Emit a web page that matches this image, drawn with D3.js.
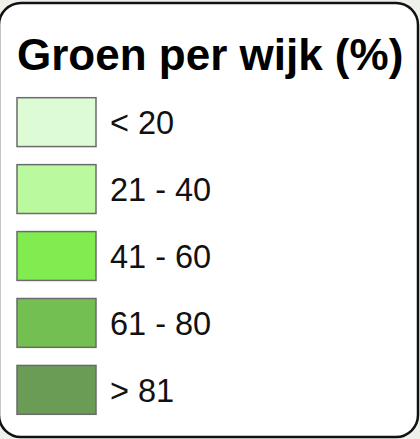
<!DOCTYPE html>
<html>
<head>
<meta charset="utf-8">
<script src="https://cdn.jsdelivr.net/npm/d3@7"></script>
<style>
  html, body { margin: 0; padding: 0; background: #eef0ea; }
  svg { display: block; }
</style>
</head>
<body>
<svg id="chart" width="420" height="439"></svg>
<script>
const title = "Groen per wijk (%)";
const classes = ["< 20", "21 - 40", "41 - 60", "61 - 80", "> 81"];
const colors = ["#ddfcd6", "#bbf99f", "#80ec4f", "#73bf52", "#6a9c56"];

const W = 420, H = 439;
const svg = d3.select("#chart");

// frame
svg.append("rect")
  .attr("x", -1).attr("y", 3)
  .attr("width", W - 1).attr("height", H - 5)
  .attr("rx", 22).attr("ry", 22)
  .attr("fill", "#fff")
  .attr("stroke", "#111")
  .attr("stroke-width", 2.5);

svg.append("text")
  .attr("x", 17).attr("y", 70)
  .attr("font-family", "Liberation Sans, Arial, sans-serif")
  .attr("font-weight", "bold")
  .attr("font-size", 44)
  .attr("fill", "#000")
  .text(title);

const y = d3.scaleBand()
  .domain(classes)
  .range([89, 423])
  .paddingInner(0.27)
  .paddingOuter(0.13);

const color = d3.scaleOrdinal().domain(classes).range(colors);

const rows = svg.selectAll("g.row")
  .data(classes)
  .enter()
  .append("g")
  .attr("class", "row")
  .attr("transform", d => `translate(0,${y(d)})`);

rows.append("rect")
  .attr("x", 17)
  .attr("width", 79)
  .attr("height", y.bandwidth())
  .attr("fill", d => color(d))
  .attr("stroke", "#6b6b6b")
  .attr("stroke-width", 1.5);

rows.append("text")
  .attr("x", 110)
  .attr("y", y.bandwidth() / 2 + 12)
  .attr("font-family", "Liberation Sans, Arial, sans-serif")
  .attr("font-size", 32.5)
  .attr("fill", "#111")
  .text(d => d);
</script>
</body>
</html>
